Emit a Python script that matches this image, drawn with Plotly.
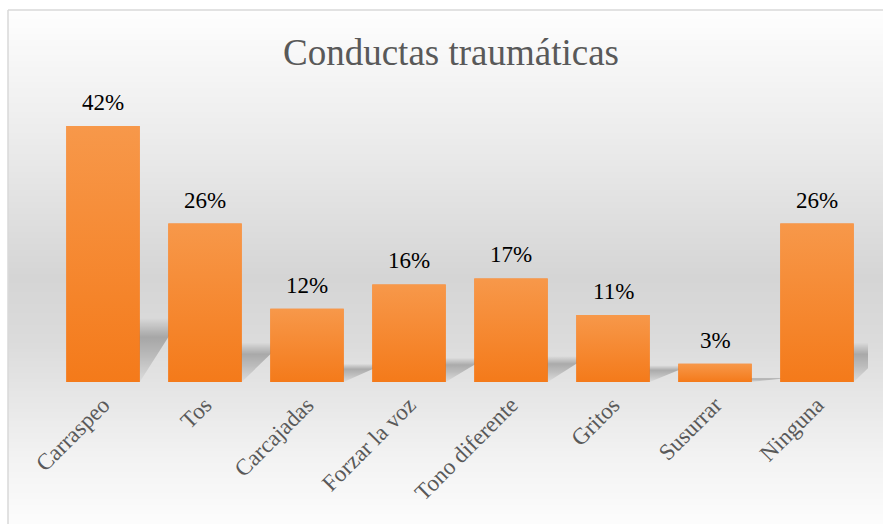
import plotly.graph_objects as go

# Chart data
categories = ["Carraspeo", "Tos", "Carcajadas", "Forzar la voz",
              "Tono diferente", "Gritos", "Susurrar", "Ninguna"]
percentages = [42, 26, 12, 16, 17, 11, 3, 26]
title_text = "Conductas traumáticas"

W, H = 883, 524
M_L, M_R, M_T, M_B = 52, 15, 100, 142
PLOT_W = W - M_L - M_R
PLOT_H = H - M_T - M_B
Y_MAX = PLOT_H / 6.095
BAR_HALF = 0.36
SERIF = "Liberation Serif, Times New Roman, serif"


def px_to_paper_x(px):
    return (px - M_L) / PLOT_W


def px_to_paper_y(py):
    return (H - M_B - py) / PLOT_H


fig = go.Figure()

# Background: vertical grey gradient across the whole chart area
grey_stops = [(0, 255), (10, 254), (50, 248), (150, 234), (277, 213),
              (340, 219), (400, 231), (460, 243), (524, 252)]


def grey_at(py):
    for (y0, g0), (y1, g1) in zip(grey_stops, grey_stops[1:]):
        if y0 <= py <= y1:
            t = (py - y0) / (y1 - y0) if y1 > y0 else 0
            return round(g0 + (g1 - g0) * t)
    return grey_stops[-1][1]


shapes = []
step = 3
for py in range(10, H, step):
    g = grey_at(py + step / 2)
    shapes.append(dict(
        type="rect", xref="paper", yref="paper", layer="below",
        x0=px_to_paper_x(8), x1=px_to_paper_x(W),
        y0=px_to_paper_y(min(py + step + 1, H)), y1=px_to_paper_y(py),
        fillcolor=f"rgb({g},{g},{g})", line=dict(width=0),
    ))
# Chart border (top and left edges)
border = dict(color="#d9d9d9", width=1.5)
shapes.append(dict(
    type="line", xref="paper", yref="paper", layer="above",
    x0=px_to_paper_x(8), x1=px_to_paper_x(W),
    y0=px_to_paper_y(10), y1=px_to_paper_y(10), line=border,
))
shapes.append(dict(
    type="line", xref="paper", yref="paper", layer="above",
    x0=px_to_paper_x(8), x1=px_to_paper_x(8),
    y0=px_to_paper_y(10), y1=px_to_paper_y(H), line=border,
))

# Base bars carrying the values
idx = list(range(len(categories)))
fig.add_trace(go.Bar(
    x=idx, y=percentages, width=2 * BAR_HALF,
    marker=dict(color="#F5893A", line=dict(width=0)),
    hoverinfo="skip", showlegend=False,
))

# Soft skewed shadows behind each bar
SKEW = 0.4
for i, v in zip(idx, percentages):
    hs = 0.25 * v
    xl, xr = i - BAR_HALF, i + BAR_HALF
    fig.add_trace(go.Scatter(
        x=[xl, xr, xr + SKEW, xl + SKEW, xl],
        y=[0, 0, hs, hs, 0],
        mode="lines", line=dict(width=0), fill="toself",
        fillgradient=dict(
            type="vertical",
            colorscale=[[0, "rgba(0,0,0,0.03)"], [0.4, "rgba(0,0,0,0.16)"],
                        [0.7, "rgba(0,0,0,0.24)"], [1, "rgba(0,0,0,0.0)"]],
        ),
        hoverinfo="skip", showlegend=False,
    ))

# Orange gradient face on each bar
for i, v in zip(idx, percentages):
    xl, xr = i - BAR_HALF, i + BAR_HALF
    fig.add_trace(go.Scatter(
        x=[xl, xr, xr, xl, xl],
        y=[0, 0, v, v, 0],
        mode="lines", line=dict(width=0), fill="toself",
        fillgradient=dict(
            type="vertical",
            colorscale=[[0, "#F47A1A"], [1, "#F7984A"]],
        ),
        hoverinfo="skip", showlegend=False,
    ))

# Value labels above the bars
annotations = [
    dict(x=i, y=v, xref="x", yref="y", text=f"{v}%", showarrow=False,
         yanchor="bottom", yshift=9,
         font=dict(family=SERIF, size=23, color="#000000"))
    for i, v in zip(idx, percentages)
]

fig.update_layout(
    width=W, height=H,
    margin=dict(l=M_L, r=M_R, t=M_T, b=M_B),
    paper_bgcolor="white",
    plot_bgcolor="rgba(0,0,0,0)",
    title=dict(text=title_text, x=451 / W, xanchor="center",
               y=1 - 52 / H, yanchor="middle",
               font=dict(family=SERIF, size=37, color="#595959")),
    xaxis=dict(
        range=[-0.5, len(categories) - 0.5],
        tickmode="array", tickvals=idx, ticktext=categories,
        tickangle=-45, ticks="", showgrid=False, zeroline=False,
        showline=False, ticklabelstandoff=4,
        tickfont=dict(family=SERIF, size=23, color="#595959"),
    ),
    yaxis=dict(range=[0, Y_MAX], visible=False, showgrid=False,
               zeroline=False),
    shapes=shapes,
    annotations=annotations,
    showlegend=False,
)

fig.write_html("out.html")
